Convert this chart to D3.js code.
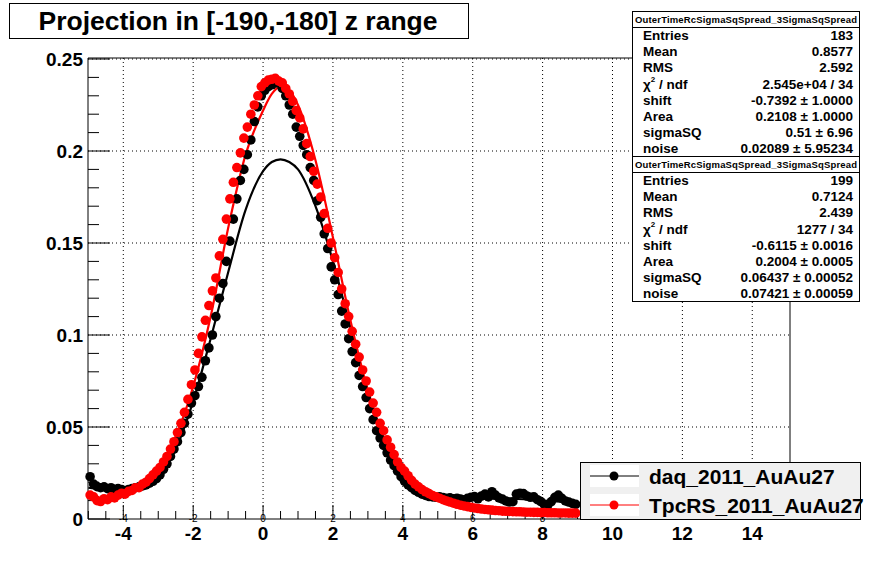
<!DOCTYPE html>
<html><head><meta charset="utf-8">
<script src="https://cdn.jsdelivr.net/npm/d3@7"></script>
<style>body{margin:0;background:#fff}svg{display:block}text{font-family:"Liberation Sans",Arial,sans-serif}</style>
</head><body><svg id="c" width="878" height="578"></svg>
<script>
const title = "Projection in [-190,-180] z range";
const binStart = -4.95, binStep = 0.1;
const daqValues = [.023,.019,.0176,.017,.0175,.0165,.017,.016,.0165,.016,.0155,.016,.0165,.017,.0175,.018,.0185,.0195,.0205,.022,
.024,.027,.030,.034,.038,.042,.047,.052,.057,.063,.067,.072,.077,.086,.093,.100,.110,.120,.128,.140,
.151,.163,.174,.184,.190,.198,.206,.216,.224,.230,.233,.235,.236,.237,.237,.234,.230,.225,.220,.213,
.208,.203,.198,.191,.184,.173,.164,.155,.147,.137,.130,.122,.113,.106,.098,.091,.085,.078,.072,.066,
.060,.054,.048,.044,.040,.036,.032,.029,.026,.023,.0205,.0185,.017,.0155,.0145,.0135,.0128,.0122,.012,.0118,
.012,.0116,.0112,.0115,.011,.0113,.0108,.0105,.0112,.0118,.0122,.011,.0125,.0135,.012,.0148,.013,.0115,.0108,.0098,
.0092,.0094,.0135,.014,.0138,.0125,.0118,.012,.0105,.0095,.0078,.0076,.0095,.0118,.013,.0112,.0098,.0092,.0085,.008];
const tpcValues = [.013,.012,.010,.0095,.011,.0105,.012,.0115,.013,.014,.0135,.015,.0155,.017,.017,.019,.020,.022,.024,.026,
.028,.031,.034,.038,.042,.047,.052,.058,.065,.073,.081,.090,.099,.108,.116,.124,.131,.143,.152,.163,
.174,.183,.191,.199,.207,.213,.220,.225,.230,.235,.237,.2385,.239,.2395,.238,.237,.234,.231,.227,.222,
.218,.212,.204,.197,.189,.182,.175,.166,.158,.150,.142,.134,.125,.117,.110,.102,.095,.088,.081,.075,
.069,.063,.058,.052,.048,.043,.039,.035,.031,.028,.026,.0235,.021,.019,.0175,.016,.0148,.0138,.0128,.012,
.0113,.0105,.0098,.0092,.0086,.008,.0075,.0071,.0067,.0063,.006,.0057,.0054,.0052,.005,.0048,.0046,.0045,.0043,.0042,
.0041,.004,.0039,.0039,.0038,.0037,.0037,.0036,.0036,.0035,.0035,.0034,.0034,.0034,.0033,.0033,.0033,.0032,.0032,.0032];
const fitX = [-5,-4.5,-4,-3.5,-3,-2.5,-2,-1.5,-1,-0.5,0,0.25,0.5,0.75,1,1.5,2,2.5,3,3.5,4,4.5,5,5.5,6,7,8,9];
const daqFit = [.017,.016,.016,.017,.023,.038,.064,.098,.134,.168,.189,.194,.1955,.194,.190,.170,.140,.104,.068,.042,.023,.014,.0115,.011,.011,.011,.010,.009];
const tpcFit = [.012,.011,.013,.018,.028,.045,.072,.110,.158,.198,.222,.231,.235,.233,.225,.195,.153,.108,.070,.042,.025,.016,.011,.008,.006,.0045,.0035,.0032];
const xTicks = [-4,-2,0,2,4,6,8,10,12,14];
const innerXLabels = [-4,-2,0,2,4,6,8];
const yTicks = [0,0.05,0.1,0.15,0.2,0.25];
const yTickLabels = ["0","0.05","0.1","0.15","0.2","0.25"];
const seriesNames = ["daq_2011_AuAu27","TpcRS_2011_AuAu27"];
const colors = ["#000000","#ff0000"];
const statTitle = "OuterTimeRcSigmaSqSpread_3SigmaSqSpread";
const statLabels = ["Entries","Mean","RMS","CHI","shift","Area","sigmaSQ","noise"];
const stats1 = ["183","0.8577","2.592","2.545e+04 / 34","-0.7392 ± 1.0000","0.2108 ± 1.0000","0.51 ± 6.96","0.02089 ± 5.95234"];
const stats2 = ["199","0.7124","2.439","1277 / 34","-0.6115 ± 0.0016","0.2004 ± 0.0005","0.06437 ± 0.00052","0.07421 ± 0.00059"];

const svg = d3.select("#c");
const L=88,R=790,T=58,B=519;
const x = d3.scaleLinear().domain([-5.01,15.08]).range([L,R]);
const y = d3.scaleLinear().domain([0,0.25]).range([B,59]);
const bins = d3.range(daqValues.length).map(i=>binStart+i*binStep);

const g = svg.append("g");
xTicks.forEach(t=>g.append("line").attr("x1",x(t)).attr("x2",x(t)).attr("y1",T).attr("y2",B).attr("stroke","#000").attr("stroke-dasharray","1,3"));
yTicks.slice(1).forEach(t=>g.append("line").attr("x1",L).attr("x2",R).attr("y1",y(t)).attr("y2",y(t)).attr("stroke","#000").attr("stroke-dasharray","1,3"));
svg.append("path").attr("d",`M${L},${B}V${T}H${R}V${B}H${L}`).attr("fill","none").attr("stroke","#000");
d3.range(0,0.2501,0.01).forEach((t,i)=>{svg.append("line").attr("x1",L).attr("x2",L+(i%5==0?22:11)).attr("y1",y(t)).attr("y2",y(t)).attr("stroke","#000");});
yTicks.forEach((t,i)=>svg.append("text").attr("x",83).attr("y",y(t)+7).attr("text-anchor","end").attr("font-size",19).attr("font-weight","bold").text(yTickLabels[i]));
d3.range(-5,15.01,0.5).forEach(t=>{const major=Math.abs(t%2)<1e-9; svg.append("line").attr("x1",x(t)).attr("x2",x(t)).attr("y1",B).attr("y2",B-(major?14:8)).attr("stroke","#000");});
xTicks.forEach(t=>svg.append("text").attr("x",x(t)).attr("y",540).attr("text-anchor","middle").attr("font-size",19).attr("font-weight","bold").text(t));
innerXLabels.forEach(t=>svg.append("text").attr("x",x(t)).attr("y",522).attr("text-anchor","middle").attr("font-size",10).text(t));

const line = d3.line().x((d,i)=>x(fitX[i])).y(d=>y(d)).curve(d3.curveMonotoneX);
svg.append("path").attr("d",line(daqFit)).attr("fill","none").attr("stroke","#000").attr("stroke-width",2.2);
svg.append("path").attr("d",line(tpcFit)).attr("fill","none").attr("stroke","#f00").attr("stroke-width",2.2);
[daqValues,tpcValues].forEach((vals,k)=>{
  svg.append("g").selectAll("circle").data(vals).join("circle").attr("cx",(d,i)=>x(bins[i])).attr("cy",d=>y(d)).attr("r",4.8).attr("fill",colors[k]);
});

svg.append("rect").attr("x",9.5).attr("y",3.5).attr("width",459).attr("height",35).attr("fill","#fff").attr("stroke","#000");
svg.append("text").attr("x",238).attr("y",30).attr("text-anchor","middle").attr("font-size",26.5).attr("font-weight","bold").text(title);

function statBox(y0,vals){
  const b=svg.append("g");
  b.append("rect").attr("x",632.5).attr("y",y0+.5).attr("width",227).attr("height",145).attr("fill","#fff").attr("stroke","#000");
  b.append("line").attr("x1",632).attr("x2",860).attr("y1",y0+16.5).attr("y2",y0+16.5).attr("stroke","#000");
  b.append("text").attr("x",746).attr("y",y0+12).attr("text-anchor","middle").attr("font-size",9.5).attr("font-weight","bold").attr("textLength",222).text(statTitle);
  statLabels.forEach((lab,i)=>{
    const yy=y0+29+i*16.2;
    const t=b.append("text").attr("x",643).attr("y",yy).attr("font-size",13.5).attr("font-weight","bold");
    if(lab==="CHI"){t.append("tspan").text("χ");t.append("tspan").attr("dy",-7).attr("font-size",8).text("2");t.append("tspan").attr("dy",7).text(" / ndf");}
    else t.text(lab);
    b.append("text").attr("x",853).attr("y",yy).attr("text-anchor","end").attr("font-size",13.5).attr("font-weight","bold").text(vals[i]);
  });
}
statBox(11,stats1); statBox(156,stats2);

const lg=svg.append("g");
lg.append("rect").attr("x",580.5).attr("y",462.5).attr("width",280).attr("height",57).attr("fill","#f0f0f0").attr("stroke","#000");
seriesNames.forEach((n,i)=>{
  const yy=476+i*29;
  lg.append("rect").attr("x",590).attr("y",yy-11).attr("width",49).attr("height",22).attr("fill","#fff");
  lg.append("line").attr("x1",590).attr("x2",639).attr("y1",yy).attr("y2",yy).attr("stroke",colors[i]);
  lg.append("circle").attr("cx",614).attr("cy",yy).attr("r",4.5).attr("fill",colors[i]);
  lg.append("text").attr("x",649).attr("y",yy+8).attr("font-size",21).attr("font-weight","bold").text(n);
});
</script></body></html>
